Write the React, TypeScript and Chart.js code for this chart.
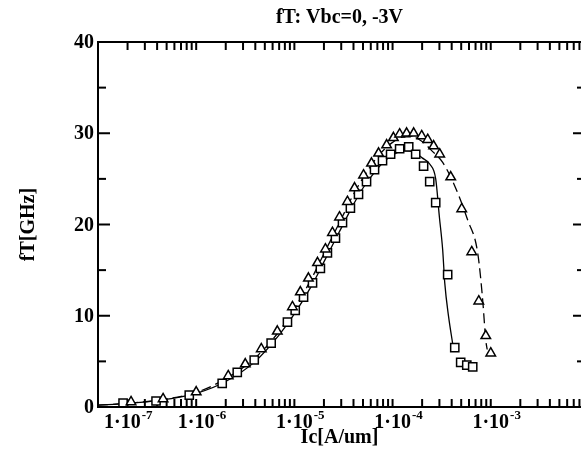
import React, { useEffect, useRef } from "react";
import { Chart, registerables } from "chart.js";

Chart.register(...registerables);

// ---- Data ----
const titleText = "fT: Vbc=0, -3V";
const xTitle = "Ic[A/um]";
const yTitle = "fT[GHz]";

const xDecadeExponents = [-7, -6, -5, -4, -3];
const xTickDecades = [-8, -7, -6, -5, -4, -3, -2];
const xMinorMultipliers = [1, 2, 3, 4, 5, 6, 7, 8, 9];
const yMajorTicks = [0, 10, 20, 30, 40];
const yMinorTicks = [5, 15, 25, 35];

// Vbc = 0 V, measured (squares)
const sqI = [1.8e-7, 3.9e-7, 8.5e-7, 1.84e-6, 2.62e-6, 3.9e-6, 5.8e-6, 8.5e-6, 1.02e-5, 1.24e-5, 1.53e-5, 1.84e-5, 2.17e-5, 2.62e-5, 3.09e-5, 3.72e-5, 4.5e-5, 5.43e-5, 6.55e-5, 7.9e-5, 9.55e-5, 1.18e-4, 1.46e-4, 1.72e-4, 2.07e-4, 2.39e-4, 2.75e-4, 3.64e-4, 4.3e-4, 4.94e-4, 5.7e-4, 6.55e-4];
const sqF = [0.44, 0.66, 1.3, 2.6, 3.8, 5.15, 7.0, 9.3, 10.6, 12.05, 13.6, 15.2, 16.9, 18.5, 20.2, 21.8, 23.3, 24.7, 26.0, 27.0, 27.7, 28.3, 28.5, 27.7, 26.4, 24.7, 22.4, 14.5, 6.5, 4.9, 4.6, 4.4];

// Vbc = -3 V, measured (triangles)
const triI = [2.17e-7, 4.6e-7, 1.0e-6, 2.12e-6, 3.16e-6, 4.6e-6, 6.7e-6, 9.55e-6, 1.15e-5, 1.39e-5, 1.72e-5, 2.07e-5, 2.44e-5, 2.88e-5, 3.47e-5, 4.1e-5, 5.06e-5, 6.1e-5, 7.2e-5, 8.7e-5, 1.02e-4, 1.18e-4, 1.39e-4, 1.64e-4, 1.98e-4, 2.28e-4, 2.62e-4, 3.02e-4, 3.91e-4, 5.06e-4, 6.4e-4, 7.55e-4, 8.9e-4, 1.0e-3];
const triF = [0.55, 0.88, 1.64, 3.4, 4.7, 6.36, 8.3, 10.96, 12.6, 14.1, 15.8, 17.3, 19.1, 20.8, 22.5, 24.0, 25.4, 26.7, 27.8, 28.7, 29.5, 29.9, 30.0, 30.0, 29.7, 29.3, 28.6, 27.7, 25.2, 21.7, 17.0, 11.6, 7.8, 5.9];

// Vbc = 0 V, simulation (solid line)
const sim0I = [1e-7, 2e-7, 4e-7, 1e-6, 2e-6, 4e-6, 7e-6, 1e-5, 1.5e-5, 2e-5, 3e-5, 4e-5, 5e-5, 6e-5, 8e-5, 1e-4, 1.3e-4, 1.6e-4, 2e-4, 2.4e-4, 2.75e-4, 3.0e-4, 3.24e-4, 3.4e-4, 3.72e-4, 4.1e-4];
const sim0F = [0.2, 0.4, 0.7, 1.5, 2.8, 5.0, 7.9, 10.2, 13.3, 15.9, 19.6, 22.2, 24.0, 25.2, 26.8, 27.6, 28.1, 28.0, 27.3, 26.6, 25.0, 20.8, 17.2, 13.6, 9.9, 6.9];

// Vbc = -3 V, simulation (dashed line)
const sim3I = [1e-7, 2e-7, 4e-7, 1e-6, 2e-6, 4e-6, 7e-6, 1e-5, 1.5e-5, 2e-5, 3e-5, 4e-5, 5e-5, 7e-5, 1e-4, 1.3e-4, 1.6e-4, 2e-4, 2.5e-4, 3.24e-4, 4.19e-4, 5.82e-4, 7.36e-4, 8.28e-4, 8.9e-4, 9.2e-4];
const sim3F = [0.2, 0.4, 0.75, 1.6, 3.1, 5.4, 8.3, 10.8, 14.1, 16.8, 20.6, 23.3, 25.1, 27.4, 29.0, 29.6, 29.6, 29.1, 28.1, 26.8, 24.5, 20.5, 16.9, 11.7, 7.3, 6.3];

const X_MIN = 1e-7;
const X_MAX = 8.3e-3;
const Y_MIN = 0;
const Y_MAX = 40;

const FONT = '"Liberation Serif", "Times New Roman", serif';

const toPts = (xv: number[], yv: number[]) => xv.map((x, i) => ({ x, y: yv[i] }));

// log-axis tick values (minor + major) inside the visible range
const xTickValues: number[] = [];
xTickDecades.forEach((e) => {
  xMinorMultipliers.forEach((m) => {
    const v = m * Math.pow(10, e);
    if (v > X_MIN * 1.0001 && v <= X_MAX) xTickValues.push(v);
  });
});
// inward tick marks: 8px long, centred 4px inside the frame (4px ≈ 0.44 units on y)
const TICK_HALF = 0.44;
const bottomTickPts = xTickValues.map((v) => ({ x: v, y: Y_MIN + TICK_HALF }));
const topTickPts = xTickValues.map((v) => ({ x: v, y: Y_MAX - TICK_HALF }));

const framePlugin = {
  id: "framePlugin",
  afterDatasetsDraw(chart: any) {
    const { ctx, chartArea, scales } = chart;
    const ys = scales.y;
    const xsc = scales.x;
    const L = chartArea.left;
    const R = chartArea.right;
    const T = chartArea.top;
    const B = chartArea.bottom;
    const rightAxis = R + 4;
    ctx.save();
    ctx.fillStyle = "#000";
    ctx.fillRect(L - 1, T - 1, 2, B - T + 2);
    ctx.fillRect(L - 1, B - 1, chart.width - L + 1, 2);
    ctx.fillRect(L - 1, T - 1, chart.width - L + 1, 2);

    yMajorTicks.forEach((v) => {
      if (v === Y_MIN || v === Y_MAX) return;
      const py = ys.getPixelForValue(v);
      ctx.fillRect(L, py - 1, 12, 2);
      ctx.fillRect(rightAxis - 12, py - 1, 12, 2);
    });
    yMinorTicks.forEach((v) => {
      const py = ys.getPixelForValue(v);
      ctx.fillRect(L, py - 1, 8, 2);
      ctx.fillRect(rightAxis - 8, py - 1, 8, 2);
    });

    ctx.font = `bold 20px ${FONT}`;
    ctx.textAlign = "right";
    ctx.textBaseline = "middle";
    yMajorTicks.forEach((v) => {
      const py = ys.getPixelForValue(v);
      ctx.fillText(String(v), L - 4, py + 1);
    });

    ctx.textBaseline = "alphabetic";
    xDecadeExponents.forEach((e) => {
      const px = xsc.getPixelForValue(Math.pow(10, e));
      const base = "1\u00b710";
      const sup = String(e);
      ctx.font = `bold 20px ${FONT}`;
      const bw = ctx.measureText(base).width;
      let left = px - bw / 2;
      if (left < L + 6) left = L + 6;
      ctx.textAlign = "left";
      ctx.fillText(base, left, 428);
      ctx.font = `bold 13px ${FONT}`;
      ctx.fillText(sup, left + bw + 1, 419);
    });

    ctx.font = `bold 20px ${FONT}`;
    ctx.textAlign = "center";
    ctx.textBaseline = "middle";
    const cx = (L + R) / 2;
    ctx.fillText(xTitle, cx, 438);
    ctx.fillText(titleText, cx, 18);
    ctx.save();
    ctx.translate(29, (T + B) / 2);
    ctx.rotate(-Math.PI / 2);
    ctx.fillText(yTitle, 0, 0);
    ctx.restore();
    ctx.restore();
  },
};

export default function App() {
  const canvasRef = useRef<HTMLCanvasElement | null>(null);

  useEffect(() => {
    const canvas = canvasRef.current;
    if (!canvas) return;
    const tickDataset = (pts: { x: number; y: number }[], label: string) => ({
      label,
      data: pts,
      showLine: false,
      pointStyle: "line",
      pointRotation: 90,
      pointRadius: 4,
      pointBorderWidth: 2,
      borderColor: "#000",
      backgroundColor: "#000",
      clip: false,
    });
    const chart = new Chart(canvas, {
      type: "scatter",
      data: {
        datasets: [
          {
            label: "Vbc=-3V meas",
            data: toPts(triI, triF),
            showLine: false,
            pointStyle: "triangle",
            pointRadius: 5.5,
            borderColor: "#000",
            backgroundColor: "#fff",
            pointBorderWidth: 1.5,
          },
          {
            label: "Vbc=0 meas",
            data: toPts(sqI, sqF),
            showLine: false,
            pointStyle: "rect",
            pointRadius: 5.8,
            borderColor: "#000",
            backgroundColor: "#fff",
            pointBorderWidth: 1.5,
          },
          {
            label: "Vbc=0 sim",
            data: toPts(sim0I, sim0F),
            showLine: true,
            pointRadius: 0,
            borderColor: "#000",
            borderWidth: 1.3,
            cubicInterpolationMode: "monotone",
          },
          {
            label: "Vbc=-3V sim",
            data: toPts(sim3I, sim3F),
            showLine: true,
            pointRadius: 0,
            borderColor: "#000",
            borderWidth: 1.3,
            borderDash: [10, 5],
            cubicInterpolationMode: "monotone",
          },
          tickDataset(bottomTickPts, "x ticks bottom"),
          tickDataset(topTickPts, "x ticks top"),
        ],
      } as any,
      options: {
        animation: false,
        responsive: false,
        devicePixelRatio: 1,
        layout: { autoPadding: false, padding: { left: 98, top: 42, right: 0, bottom: 52 } },
        scales: {
          x: { type: "logarithmic", min: X_MIN, max: X_MAX, display: false },
          y: { type: "linear", min: Y_MIN, max: Y_MAX, display: false },
        },
        plugins: {
          legend: { display: false },
          tooltip: { enabled: false },
          title: { display: false },
        },
      } as any,
      plugins: [framePlugin],
    });
    return () => chart.destroy();
  }, []);

  return (
    <div style={{ position: "fixed", left: 0, top: 0, width: 581, height: 459, background: "#fff" }}>
      <canvas ref={canvasRef} width={581} height={459} style={{ display: "block" }} />
    </div>
  );
}
